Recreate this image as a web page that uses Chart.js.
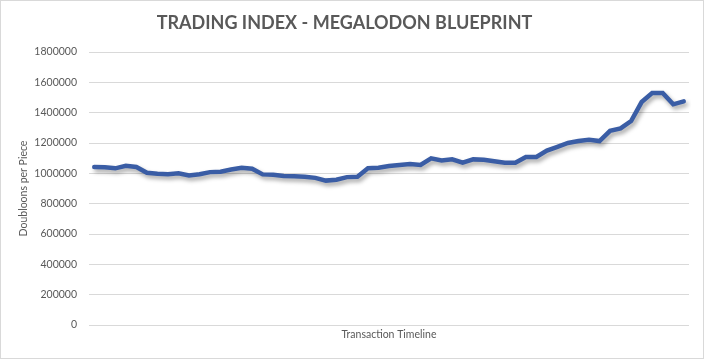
<!DOCTYPE html>
<html>
<head>
<meta charset="utf-8">
<script src="https://cdn.jsdelivr.net/npm/chart.js@4/dist/chart.umd.min.js"></script>
<style>
  html, body { margin: 0; padding: 0; background: #ffffff; }
  #wrap { width: 704px; height: 359px; position: relative; }
</style>
</head>
<body>
<div id="wrap"><canvas id="c" width="704" height="359"></canvas></div>
<script>
const chartTitle = "TRADING INDEX - MEGALODON BLUEPRINT";
const xAxisTitle = "Transaction Timeline";
const yAxisTitle = "Doubloons per Piece";
const categories = Array.from({length: 57}, (_, i) => String(i + 1));
const prices = [
  1042000, 1040000, 1033000, 1050000, 1042000, 1004000, 998000, 994000, 1000000, 986000,
  994000, 1008000, 1010000, 1025000, 1037000, 1030000, 993000, 990000, 982000, 980000,
  978000, 970000, 952000, 958000, 975000, 978000, 1033000, 1037000, 1048000, 1055000,
  1062000, 1055000, 1099000, 1085000, 1092000, 1070000, 1092000, 1090000, 1080000, 1070000,
  1070000, 1108000, 1108000, 1150000, 1175000, 1200000, 1213000, 1222000, 1213000, 1280000,
  1296000, 1345000, 1470000, 1530000, 1530000, 1455000, 1475000
];
const yTicks = { min: 0, max: 1800000, step: 200000 };

const shadowPlugin = {
  id: 'lineShadow',
  beforeDatasetDraw(chart) {
    const ctx = chart.ctx;
    ctx.save();
    ctx.shadowColor = 'rgba(0,0,0,0.35)';
    ctx.shadowBlur = 4;
    ctx.shadowOffsetX = 2;
    ctx.shadowOffsetY = 3;
  },
  afterDatasetDraw(chart) {
    chart.ctx.restore();
  }
};
const borderPlugin = {
  id: 'outerBorder',
  afterDraw(chart) {
    const ctx = chart.ctx;
    ctx.save();
    ctx.strokeStyle = '#d9d9d9';
    ctx.lineWidth = 1;
    ctx.strokeRect(0.5, 0.5, chart.width - 1, chart.height - 1);
    ctx.restore();
  }
};

new Chart(document.getElementById('c'), {
  type: 'line',
  data: {
    labels: categories,
    datasets: [{
      data: prices,
      borderColor: '#3a5da5',
      borderWidth: 4.5,
      pointRadius: 0,
      tension: 0,
      borderJoinStyle: 'miter',
      borderCapStyle: 'round',
      fill: false
    }]
  },
  options: {
    responsive: false,
    animation: false,
    layout: { padding: { left: 0, right: 15, top: 0, bottom: 0 } },
    plugins: {
      legend: { display: false },
      tooltip: { enabled: false },
      title: {
        display: true,
        text: chartTitle,
        color: '#595959',
        font: { family: 'Lato', size: 18, weight: 'bold', lineHeight: 1.2 },
        padding: { top: 12.6, bottom: 17.8 }
      }
    },
    scales: {
      x: {
        offset: true,
        grid: { display: false },
        border: { display: false },
        ticks: { display: false },
        title: {
          display: true,
          text: xAxisTitle,
          color: '#595959',
          font: { family: 'Lato', size: 10.5, lineHeight: 1.2 },
          padding: { top: 0, bottom: 17.7 }
        },
        afterFit(scale) { scale.height = 34; }
      },
      y: {
        min: yTicks.min,
        max: yTicks.max,
        grid: { color: '#d9d9d9', lineWidth: 1, drawTicks: false },
        border: { display: false },
        ticks: {
          stepSize: yTicks.step,
          padding: 12,
          color: '#595959',
          font: { family: 'Lato', size: 10.5 },
          callback: v => String(v)
        },
        title: {
          display: true,
          text: yAxisTitle,
          color: '#595959',
          font: { family: 'Lato', size: 10.5, lineHeight: 1.2 },
          padding: { top: 17.7, bottom: 0 }
        },
        afterFit(scale) { scale.width = 89; }
      }
    }
  },
  plugins: [shadowPlugin, borderPlugin]
});
</script>
</body>
</html>
